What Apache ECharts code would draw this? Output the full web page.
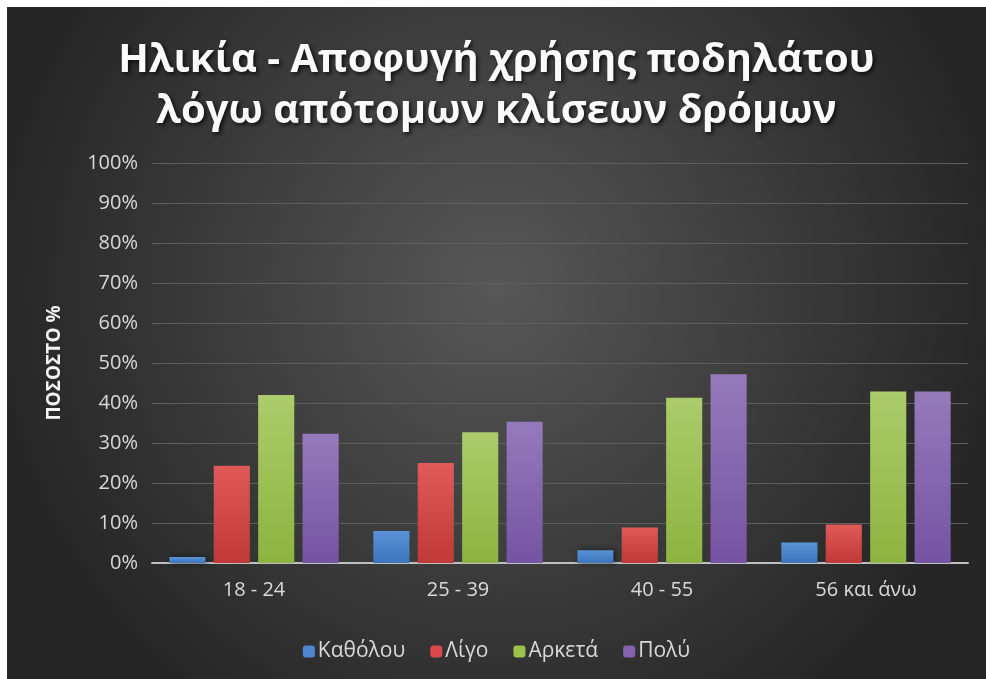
<!DOCTYPE html>
<html><head><meta charset="utf-8">
<script src="https://cdn.jsdelivr.net/npm/echarts@6/dist/echarts.min.js"></script>
<style>html,body{margin:0;padding:0;background:#fff;}#c{position:absolute;left:7px;top:7px;width:979px;height:672px;}</style>
</head><body><div id="c"></div>
<script>
const titleText = 'Ηλικία - Αποφυγή χρήσης ποδηλάτου\nλόγω απότομων κλίσεων δρόμων';
const yAxisName = 'ΠΟΣΟΣΤΟ %';
const categories = ['18 - 24', '25 - 39', '40 - 55', '56 και άνω'];
const seriesNames = ['Καθόλου', 'Λίγο', 'Αρκετά', 'Πολύ'];
const katholou = [1.5, 8, 3.2, 5.1];
const ligo = [24.3, 25, 8.9, 9.6];
const arketa = [42, 32.7, 41.3, 42.9];
const poly = [32.3, 35.3, 47.2, 42.9];
const yTicks = [0, 10, 20, 30, 40, 50, 60, 70, 80, 90, 100];

const values = [katholou, ligo, arketa, poly];
const grads = [['#5b93d8', '#3c74bd'], ['#e05a58', '#bf3a36'], ['#abcc6a', '#8cb440'], ['#957abb', '#7653a3']];
const legendColors = ['#4f86cf', '#d9484a', '#9bc24b', '#8363ae'];

const chart = echarts.init(document.getElementById('c'));
chart.setOption({
  backgroundColor: {type: 'radial', x: 0.5, y: 0.42, r: 0.75,
    colorStops: [{offset: 0, color: '#575757'}, {offset: 1, color: '#262626'}]},
  textStyle: {fontFamily: 'Open Sans'},
  title: {text: titleText, left: 'center', top: 23,
    textStyle: {color: '#fafafa', fontSize: 40, fontWeight: 'bold', fontFamily: 'Open Sans', lineHeight: 51,
      textShadowColor: 'rgba(0,0,0,0.75)', textShadowBlur: 4, textShadowOffsetX: 2, textShadowOffsetY: 2}},
  legend: {bottom: 12, left: 'center', itemWidth: 12, itemHeight: 12, itemGap: 25,
    data: seriesNames.map((n, i) => ({name: n, itemStyle: {color: legendColors[i]}})),
    textStyle: {color: '#d9d9d9', fontSize: 21, padding: [0, 0, 0, -2]}},
  grid: {left: 145, right: 18, top: 156, bottom: 116},
  xAxis: {type: 'category', data: categories,
    axisLine: {lineStyle: {color: '#bfbfbf', width: 2}}, axisTick: {show: false},
    axisLabel: {color: '#d9d9d9', fontSize: 20, margin: 17}},
  yAxis: {type: 'value', min: 0, max: 100, interval: 10,
    name: yAxisName, nameLocation: 'middle', nameGap: 88, nameRotate: 90,
    nameTextStyle: {color: '#f2f2f2', fontSize: 19, fontWeight: 'bold'},
    axisLine: {show: false}, axisTick: {show: false},
    axisLabel: {color: '#d9d9d9', fontSize: 20, margin: 14,
      formatter: v => yTicks.includes(v) ? v + '%' : ''},
    splitLine: {lineStyle: {color: '#5e5e5e', width: 1}}},
  series: seriesNames.map((n, i) => ({
    name: n, type: 'bar', data: values[i], barCategoryGap: '17%', barGap: '23%',
    itemStyle: {color: {type: 'linear', x: 0, y: 0, x2: 0, y2: 1,
      colorStops: [{offset: 0, color: grads[i][0]}, {offset: 1, color: grads[i][1]}]},
      shadowColor: 'rgba(0,0,0,0.6)', shadowBlur: 6, shadowOffsetX: 2, shadowOffsetY: 0}
  }))
});
</script></body></html>
